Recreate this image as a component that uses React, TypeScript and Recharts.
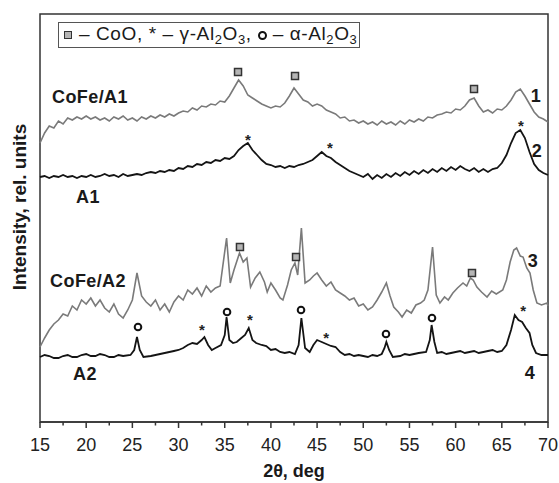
import React from 'react';
import { ComposedChart, Line, Scatter, XAxis, YAxis, ReferenceArea } from 'recharts';

// [2θ, intensity] pairs, intensity in arbitrary units (0..408)
const cofeA1 = [
  [15, 279], [15.5, 289], [16, 296], [16.5, 294], [17, 301], [17.5, 298], [18, 304], [18.5, 302],
  [19, 305], [19.5, 303], [20, 306], [20.5, 303], [21, 305], [21.5, 302], [22, 304], [22.5, 301],
  [23, 305], [23.5, 303], [24, 306], [24.5, 302], [25, 304], [25.5, 301], [26, 305], [26.5, 303],
  [27, 306], [27.5, 304], [28, 307], [28.5, 305], [29, 308], [29.5, 306], [30, 309], [30.5, 311],
  [31, 310], [31.5, 314], [32, 312], [32.5, 316], [33, 315], [33.5, 318], [34, 317], [34.5, 321],
  [35, 320], [35.5, 326], [36, 334], [36.5, 342], [37, 336], [37.5, 327], [38, 324], [38.5, 321],
  [39, 318], [39.5, 316], [40, 314], [40.5, 316], [41, 315], [41.5, 319], [42, 326], [42.5, 334],
  [43, 328], [43.5, 322], [44, 320], [44.5, 316], [45, 318], [45.5, 316], [46, 312], [46.5, 310],
  [47, 308], [47.5, 304], [48, 305], [48.5, 301], [49, 302], [49.5, 299], [50, 301], [50.5, 298],
  [51, 300], [51.5, 297], [52, 301], [52.5, 298], [53, 300], [53.5, 297], [54, 301], [54.5, 298],
  [55, 302], [55.5, 300], [56, 303], [56.5, 301], [57, 305], [57.5, 304], [58, 307], [58.5, 308],
  [59, 310], [59.5, 309], [60, 313], [60.5, 312], [61, 316], [61.5, 322], [62, 324], [62.5, 316],
  [63, 310], [63.5, 312], [64, 309], [64.5, 313], [65, 312], [65.5, 316], [66, 322], [66.5, 330],
  [67, 333], [67.5, 326], [68, 318], [68.5, 310], [69, 305], [69.5, 303], [70, 300],
];

const a1 = [
  [15, 245], [15.5, 246], [16, 244], [16.5, 246], [17, 245], [17.5, 247], [18, 245], [18.5, 246],
  [19, 244], [19.5, 246], [20, 245], [20.5, 247], [21, 245], [21.5, 246], [22, 248], [22.5, 246],
  [23, 247], [23.5, 245], [24, 248], [24.5, 246], [25, 247], [25.5, 248], [26, 247], [26.5, 249],
  [27, 250], [27.5, 249], [28, 251], [28.5, 250], [29, 252], [29.5, 251], [30, 254], [30.5, 253],
  [31, 256], [31.5, 255], [32, 258], [32.5, 257], [33, 260], [33.5, 259], [34, 262], [34.5, 261],
  [35, 264], [35.5, 263], [36, 266], [36.5, 272], [37, 276], [37.5, 279], [38, 272], [38.5, 267],
  [39, 262], [39.5, 258], [40, 257], [40.5, 255], [41, 256], [41.5, 254], [42, 256], [42.5, 255],
  [43, 257], [43.5, 258], [44, 260], [44.5, 262], [45, 266], [45.5, 270], [46, 266], [46.5, 264],
  [47, 260], [47.5, 257], [48, 254], [48.5, 251], [49, 249], [49.5, 247], [50, 245], [50.5, 248],
  [51, 243], [51.5, 247], [52, 244], [52.5, 248], [53, 245], [53.5, 249], [54, 246], [54.5, 250],
  [55, 247], [55.5, 251], [56, 248], [56.5, 252], [57, 249], [57.5, 253], [58, 250], [58.5, 254],
  [59, 251], [59.5, 255], [60, 252], [60.5, 256], [61, 253], [61.5, 251], [62, 254], [62.5, 250],
  [63, 253], [63.5, 250], [64, 253], [64.5, 254], [65, 259], [65.5, 267], [66, 279], [66.5, 289],
  [67, 292], [67.5, 284], [68, 270], [68.5, 258], [69, 252], [69.5, 249], [70, 247],
];

const cofeA2 = [
  [15, 75], [15.5, 84], [16, 92], [16.5, 98], [17, 102], [17.5, 108], [18, 106], [18.5, 116],
  [19, 112], [19.5, 122], [20, 118], [20.5, 124], [21, 116], [21.5, 122], [22, 114], [22.5, 110],
  [23, 118], [23.5, 108], [24, 104], [24.5, 112], [25, 122], [25.5, 149], [26, 126], [26.5, 120],
  [27, 116], [27.5, 122], [28, 112], [28.5, 118], [29, 110], [29.5, 120], [30, 126], [30.5, 122],
  [31, 132], [31.5, 128], [32, 134], [32.5, 126], [33, 136], [33.5, 130], [34, 134], [34.5, 136],
  [35.2, 184], [35.6, 139], [36, 152], [36.6, 169], [37, 160], [37.4, 164], [37.8, 135], [38.3, 144],
  [38.8, 150], [39.3, 140], [39.6, 130], [40, 139], [40.5, 132], [41, 124], [41.3, 122], [41.8, 137],
  [42.2, 152], [42.6, 159], [42.9, 147], [43.3, 194], [43.7, 139], [44.2, 142], [44.6, 146], [45, 149],
  [45.5, 142], [46, 136], [46.5, 140], [47, 132], [47.5, 129], [48, 126], [48.5, 122], [49, 124],
  [49.5, 116], [50, 118], [50.5, 112], [51, 115], [51.5, 122], [52, 130], [52.5, 139], [52.9, 126],
  [53.3, 115], [53.8, 110], [54.2, 105], [54.7, 112], [55.2, 109], [55.7, 117], [56.2, 119], [56.6, 122],
  [57, 132], [57.5, 175], [57.9, 127], [58.3, 119], [58.8, 125], [59.2, 122], [59.7, 129], [60.2, 134],
  [60.8, 139], [61.2, 136], [61.6, 144], [61.9, 142], [62.3, 135], [62.8, 130], [63.4, 125], [63.9, 131],
  [64.4, 128], [65.1, 132], [65.5, 142], [65.9, 160], [66.3, 172], [66.6, 174], [67, 166], [67.3, 165],
  [67.7, 154], [68.05, 149], [68.4, 132], [68.8, 119], [69.3, 117], [69.9, 119], [70, 116],
];

const a2 = [
  [15, 65], [15.5, 67], [16, 66], [16.5, 64], [17, 64], [17.5, 66], [18, 67], [18.5, 65], [19, 65],
  [19.5, 67], [20, 68], [20.5, 66], [21, 66], [21.5, 68], [22, 67], [22.5, 65], [23, 65], [23.5, 67],
  [24, 66], [24.8, 67], [25.2, 72], [25.5, 85], [25.8, 72], [26.2, 65], [27, 66], [27.5, 67], [28, 68],
  [28.5, 69], [29, 70], [29.5, 71], [30, 72], [30.5, 74], [31, 77], [31.5, 79], [32, 78], [32.5, 82],
  [32.8, 85], [33.2, 77], [33.6, 72], [34, 74], [34.6, 77], [35, 87], [35.2, 105], [35.5, 82], [35.9, 79],
  [36.3, 80], [36.8, 84], [37.2, 87], [37.6, 94], [38, 82], [38.4, 79], [39, 77], [39.5, 76], [40, 72],
  [40.5, 73], [41, 70], [41.5, 69], [42, 70], [42.6, 68], [43, 77], [43.3, 104], [43.7, 74], [44.2, 70],
  [44.6, 77], [45, 82], [45.5, 80], [46, 78], [46.5, 76], [47, 75], [47.5, 70], [48, 67], [48.5, 68],
  [49, 66], [49.5, 67], [50, 66], [50.5, 65], [51, 67], [51.5, 66], [52, 68], [52.3, 74], [52.5, 80],
  [52.8, 72], [53.2, 65], [54, 66], [54.5, 68], [55, 67], [55.5, 68], [56, 69], [56.8, 70], [57.2, 82],
  [57.4, 97], [57.7, 80], [58, 69], [58.5, 70], [59, 68], [59.5, 69], [60, 70], [60.5, 71], [61, 69],
  [61.5, 70], [62, 71], [62.5, 69], [63, 70], [63.5, 71], [64, 72], [64.5, 70], [65, 71], [65.5, 77],
  [66, 92], [66.4, 107], [66.8, 102], [67.2, 100], [67.6, 94], [68, 89], [68.3, 77], [68.7, 69],
  [69.3, 67], [70, 67],
];

// phase markers
const cooMarks = [[36.44, 350], [42.61, 346], [61.99, 333], [36.65, 175], [42.72, 165], [61.77, 149]];
const gammaMarks = [[37.52, 285], [46.4, 277], [67.08, 299], [32.54, 95], [37.74, 105], [45.97, 87], [67.3, 114]];
const alphaMarks = [[25.61, 95], [35.25, 110], [43.26, 112], [52.46, 88], [57.44, 104]];

// curve labels: text, 2θ, level
const curveLabels: [string, number, number][] = [
  ['CoFe/A1', 20.41, 326], ['A1', 20.2, 226], ['CoFe/A2', 20.2, 142], ['A2', 19.87, 49],
  ['1', 68.7, 327], ['2', 68.81, 272], ['3', 68.38, 162], ['4', 68.05, 50],
];

const xTicks = [15, 17.5, 20, 22.5, 25, 27.5, 30, 32.5, 35, 37.5, 40, 42.5, 45, 47.5, 50, 52.5, 55, 57.5, 60, 62.5, 65, 67.5, 70];

const toPoints = (s: number[][]) => s.map(([x, y]) => ({ x, y }));

const FONT = '"Liberation Sans", Arial, sans-serif';
const AXIS = '#333';

const AxisTick = (props: any) => {
  const { x, y, payload } = props;
  const major = payload.value % 5 === 0;
  return (
    <g>
      <line x1={x} x2={x} y1={y} y2={y + (major ? 6 : 3.5)} stroke={AXIS} strokeWidth={1.5} />
      {major && (
        <text x={x} y={y + 29} textAnchor="middle" fontFamily={FONT} fontSize={18} fill="#222">
          {payload.value}
        </text>
      )}
    </g>
  );
};

const SquareMark = (props: any) => (
  <rect x={props.cx - 3.5} y={props.cy - 3.5} width={7} height={7} fill="#b5b5b5" stroke="#333" strokeWidth={1.5} />
);

const StarMark = (props: any) => (
  <text x={props.cx} y={props.cy + 8} textAnchor="middle" fontFamily={FONT} fontWeight="bold" fontSize={15} fill="#222">*</text>
);

const CircleMark = (props: any) => (
  <circle cx={props.cx} cy={props.cy} r={3.3} fill="#fff" stroke="#111" strokeWidth={2} />
);

const LabelMark = (props: any) => (
  <text x={props.cx} y={props.cy + 6.5} textAnchor="middle" fontFamily={FONT} fontWeight="bold" fontSize={18} letterSpacing={0.4} fill="#1a1a1a">
    {props.payload.text}
  </text>
);

const sub = (t: string) => (
  <span style={{ fontSize: 13, position: 'relative', top: 4 }}>{t}</span>
);

export default function App() {
  const labelData = curveLabels.map(([text, x, y]) => ({ text, x, y }));
  return (
    <div style={{ position: 'absolute', left: 0, top: 0, width: 559, height: 483, background: '#fff' }}>
      <ComposedChart width={559} height={483} margin={{ top: 14, right: 11, left: 40, bottom: 0 }}>
        <XAxis
          dataKey="x"
          type="number"
          domain={[15, 70]}
          ticks={xTicks}
          interval={0}
          height={61}
          tickSize={0}
          tickMargin={0}
          tickLine={false}
          tick={<AxisTick />}
          axisLine={{ stroke: AXIS, strokeWidth: 1.5 }}
          label={{ value: '2θ, deg', position: 'insideBottom', offset: 6, style: { fontFamily: FONT, fontWeight: 'bold', fontSize: 18, fill: '#1a1a1a' } }}
        />
        <YAxis type="number" domain={[0, 408]} hide />
        <ReferenceArea x1={15} x2={70} y1={0} y2={408} fill="none" fillOpacity={0} stroke={AXIS} strokeWidth={1.5} />
        <Line data={toPoints(cofeA1)} dataKey="y" type="linear" stroke="#7a7a7a" strokeWidth={1.6} dot={false} isAnimationActive={false} />
        <Line data={toPoints(a1)} dataKey="y" type="linear" stroke="#141414" strokeWidth={1.8} dot={false} isAnimationActive={false} />
        <Line data={toPoints(cofeA2)} dataKey="y" type="linear" stroke="#7a7a7a" strokeWidth={1.6} dot={false} isAnimationActive={false} />
        <Line data={toPoints(a2)} dataKey="y" type="linear" stroke="#141414" strokeWidth={1.8} dot={false} isAnimationActive={false} />
        <Scatter data={toPoints(cooMarks)} dataKey="y" shape={SquareMark} isAnimationActive={false} />
        <Scatter data={toPoints(gammaMarks)} dataKey="y" shape={StarMark} isAnimationActive={false} />
        <Scatter data={toPoints(alphaMarks)} dataKey="y" shape={CircleMark} isAnimationActive={false} />
        <Scatter data={labelData} dataKey="y" shape={LabelMark} isAnimationActive={false} />
      </ComposedChart>

      {/* legend box */}
      <div
        style={{
          position: 'absolute', left: 58, top: 22, width: 302, height: 26, boxSizing: 'border-box',
          border: '1.5px solid #555', display: 'flex', alignItems: 'center', paddingLeft: 5,
          fontFamily: FONT, fontSize: 19, letterSpacing: 0.6, whiteSpace: 'nowrap', color: '#1a1a1a', lineHeight: '20px',
        }}
      >
        <span style={{ display: 'inline-block', width: 6, height: 6, background: '#b5b5b5', border: '1.5px solid #333', marginRight: 7 }} />
        <span>– CoO, * – γ-Al{sub('2')}O{sub('3')}, </span>
        <span style={{ display: 'inline-block', width: 5, height: 5, borderRadius: '50%', border: '2px solid #111', margin: '0 6px 0 6px' }} />
        <span>– α-Al{sub('2')}O{sub('3')}</span>
      </div>

      {/* y axis title */}
      <div
        style={{
          position: 'absolute', left: 20, top: 207, transform: 'translate(-50%, -50%) rotate(-90deg)',
          fontFamily: FONT, fontWeight: 'bold', fontSize: 19, whiteSpace: 'nowrap', color: '#1a1a1a',
        }}
      >
        Intensity, rel. units
      </div>
    </div>
  );
}
